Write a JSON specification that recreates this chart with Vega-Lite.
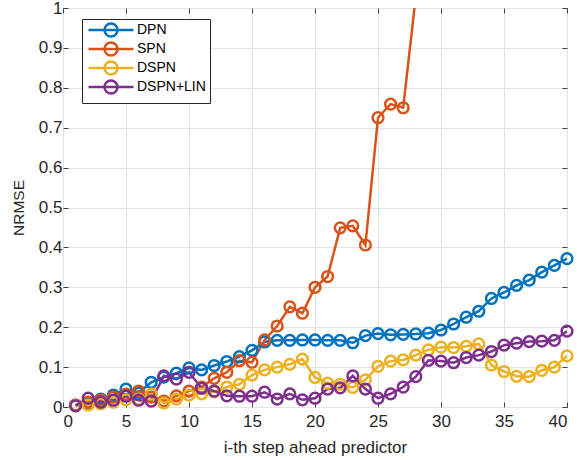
{
  "$schema": "https://vega.github.io/schema/vega-lite/v6.json",
  "autosize": {"type": "none"},
  "width": 504,
  "height": 399,
  "padding": {"left": 63, "top": 8, "right": 10, "bottom": 53},
  "background": "white",
  "config": {
    "view": {"stroke": "#404040", "strokeWidth": 1},
    "font": "Liberation Sans",
    "axis": {
      "domain": false,
      "grid": false,
      "tickColor": "#404040",
      "tickSize": -5,
      "labelFont": "Liberation Sans",
      "labelFontSize": 17,
      "labelColor": "#262626",
      "titleFont": "Liberation Sans",
      "titleFontSize": 17,
      "titleFontWeight": "normal",
      "titleColor": "#262626",
      "gridColor": "#e3e3e3",
      "gridWidth": 1
    },
    "legend": {
      "orient": "none",
      "legendX": 19,
      "legendY": 11,
      "padding": 4,
      "strokeColor": "#262626",
      "fillColor": "white",
      "labelFont": "Liberation Sans",
      "labelFontSize": 14,
      "labelColor": "black",
      "labelOffset": 19,
      "symbolOffset": 18,
      "rowPadding": -5,
      "symbolType": "M-4.5,0H4.5M1.3,0A1.3,1.3 0 1,1 -1.3,0A1.3,1.3 0 1,1 1.3,0",
      "symbolSize": 100,
      "symbolStrokeWidth": 2.5,
      "symbolFillColor": "transparent"
    }
  },
  "data": {
    "values": [
      {"s": "DPN", "x": 1, "v": 0.005}, {"s": "DPN", "x": 2, "v": 0.01}, {"s": "DPN", "x": 3, "v": 0.02}, {"s": "DPN", "x": 4, "v": 0.03},
      {"s": "DPN", "x": 5, "v": 0.045}, {"s": "DPN", "x": 6, "v": 0.035}, {"s": "DPN", "x": 7, "v": 0.062}, {"s": "DPN", "x": 8, "v": 0.075},
      {"s": "DPN", "x": 9, "v": 0.085}, {"s": "DPN", "x": 10, "v": 0.098}, {"s": "DPN", "x": 11, "v": 0.093}, {"s": "DPN", "x": 12, "v": 0.104},
      {"s": "DPN", "x": 13, "v": 0.114}, {"s": "DPN", "x": 14, "v": 0.126}, {"s": "DPN", "x": 15, "v": 0.142}, {"s": "DPN", "x": 16, "v": 0.163},
      {"s": "DPN", "x": 17, "v": 0.167}, {"s": "DPN", "x": 18, "v": 0.167}, {"s": "DPN", "x": 19, "v": 0.168}, {"s": "DPN", "x": 20, "v": 0.168},
      {"s": "DPN", "x": 21, "v": 0.167}, {"s": "DPN", "x": 22, "v": 0.167}, {"s": "DPN", "x": 23, "v": 0.161}, {"s": "DPN", "x": 24, "v": 0.179},
      {"s": "DPN", "x": 25, "v": 0.184}, {"s": "DPN", "x": 26, "v": 0.181}, {"s": "DPN", "x": 27, "v": 0.182}, {"s": "DPN", "x": 28, "v": 0.183},
      {"s": "DPN", "x": 29, "v": 0.185}, {"s": "DPN", "x": 30, "v": 0.193}, {"s": "DPN", "x": 31, "v": 0.208}, {"s": "DPN", "x": 32, "v": 0.225},
      {"s": "DPN", "x": 33, "v": 0.24}, {"s": "DPN", "x": 34, "v": 0.272}, {"s": "DPN", "x": 35, "v": 0.287}, {"s": "DPN", "x": 36, "v": 0.305},
      {"s": "DPN", "x": 37, "v": 0.318}, {"s": "DPN", "x": 38, "v": 0.338}, {"s": "DPN", "x": 39, "v": 0.355}, {"s": "DPN", "x": 40, "v": 0.372},

      {"s": "SPN", "x": 1, "v": 0.005}, {"s": "SPN", "x": 2, "v": 0.012}, {"s": "SPN", "x": 3, "v": 0.017}, {"s": "SPN", "x": 4, "v": 0.025},
      {"s": "SPN", "x": 5, "v": 0.032}, {"s": "SPN", "x": 6, "v": 0.04}, {"s": "SPN", "x": 7, "v": 0.025}, {"s": "SPN", "x": 8, "v": 0.015},
      {"s": "SPN", "x": 9, "v": 0.028}, {"s": "SPN", "x": 10, "v": 0.04}, {"s": "SPN", "x": 11, "v": 0.05}, {"s": "SPN", "x": 12, "v": 0.072},
      {"s": "SPN", "x": 13, "v": 0.087}, {"s": "SPN", "x": 14, "v": 0.116}, {"s": "SPN", "x": 15, "v": 0.112}, {"s": "SPN", "x": 16, "v": 0.168},
      {"s": "SPN", "x": 17, "v": 0.203}, {"s": "SPN", "x": 18, "v": 0.251}, {"s": "SPN", "x": 19, "v": 0.235}, {"s": "SPN", "x": 20, "v": 0.3},
      {"s": "SPN", "x": 21, "v": 0.327}, {"s": "SPN", "x": 22, "v": 0.449}, {"s": "SPN", "x": 23, "v": 0.454}, {"s": "SPN", "x": 24, "v": 0.406},
      {"s": "SPN", "x": 25, "v": 0.725}, {"s": "SPN", "x": 26, "v": 0.759}, {"s": "SPN", "x": 27, "v": 0.75}, {"s": "SPN", "x": 28, "v": 1.03},

      {"s": "DSPN", "x": 1, "v": 0.003}, {"s": "DSPN", "x": 2, "v": 0.005}, {"s": "DSPN", "x": 3, "v": 0.008}, {"s": "DSPN", "x": 4, "v": 0.012},
      {"s": "DSPN", "x": 5, "v": 0.018}, {"s": "DSPN", "x": 6, "v": 0.02}, {"s": "DSPN", "x": 7, "v": 0.032}, {"s": "DSPN", "x": 8, "v": 0.01},
      {"s": "DSPN", "x": 9, "v": 0.02}, {"s": "DSPN", "x": 10, "v": 0.03}, {"s": "DSPN", "x": 11, "v": 0.033}, {"s": "DSPN", "x": 12, "v": 0.038},
      {"s": "DSPN", "x": 13, "v": 0.05}, {"s": "DSPN", "x": 14, "v": 0.057}, {"s": "DSPN", "x": 15, "v": 0.08}, {"s": "DSPN", "x": 16, "v": 0.093},
      {"s": "DSPN", "x": 17, "v": 0.1}, {"s": "DSPN", "x": 18, "v": 0.107}, {"s": "DSPN", "x": 19, "v": 0.12}, {"s": "DSPN", "x": 20, "v": 0.074},
      {"s": "DSPN", "x": 21, "v": 0.06}, {"s": "DSPN", "x": 22, "v": 0.057}, {"s": "DSPN", "x": 23, "v": 0.049}, {"s": "DSPN", "x": 24, "v": 0.068},
      {"s": "DSPN", "x": 25, "v": 0.102}, {"s": "DSPN", "x": 26, "v": 0.115}, {"s": "DSPN", "x": 27, "v": 0.118}, {"s": "DSPN", "x": 28, "v": 0.13},
      {"s": "DSPN", "x": 29, "v": 0.143}, {"s": "DSPN", "x": 30, "v": 0.15}, {"s": "DSPN", "x": 31, "v": 0.149}, {"s": "DSPN", "x": 32, "v": 0.152},
      {"s": "DSPN", "x": 33, "v": 0.158}, {"s": "DSPN", "x": 34, "v": 0.105}, {"s": "DSPN", "x": 35, "v": 0.089}, {"s": "DSPN", "x": 36, "v": 0.077},
      {"s": "DSPN", "x": 37, "v": 0.076}, {"s": "DSPN", "x": 38, "v": 0.092}, {"s": "DSPN", "x": 39, "v": 0.1}, {"s": "DSPN", "x": 40, "v": 0.128},

      {"s": "DSPN+LIN", "x": 1, "v": 0.003}, {"s": "DSPN+LIN", "x": 2, "v": 0.022}, {"s": "DSPN+LIN", "x": 3, "v": 0.012}, {"s": "DSPN+LIN", "x": 4, "v": 0.017},
      {"s": "DSPN+LIN", "x": 5, "v": 0.027}, {"s": "DSPN+LIN", "x": 6, "v": 0.017}, {"s": "DSPN+LIN", "x": 7, "v": 0.015}, {"s": "DSPN+LIN", "x": 8, "v": 0.078},
      {"s": "DSPN+LIN", "x": 9, "v": 0.07}, {"s": "DSPN+LIN", "x": 10, "v": 0.087}, {"s": "DSPN+LIN", "x": 11, "v": 0.047}, {"s": "DSPN+LIN", "x": 12, "v": 0.04},
      {"s": "DSPN+LIN", "x": 13, "v": 0.028}, {"s": "DSPN+LIN", "x": 14, "v": 0.027}, {"s": "DSPN+LIN", "x": 15, "v": 0.027}, {"s": "DSPN+LIN", "x": 16, "v": 0.037},
      {"s": "DSPN+LIN", "x": 17, "v": 0.02}, {"s": "DSPN+LIN", "x": 18, "v": 0.033}, {"s": "DSPN+LIN", "x": 19, "v": 0.018}, {"s": "DSPN+LIN", "x": 20, "v": 0.022},
      {"s": "DSPN+LIN", "x": 21, "v": 0.045}, {"s": "DSPN+LIN", "x": 22, "v": 0.048}, {"s": "DSPN+LIN", "x": 23, "v": 0.078}, {"s": "DSPN+LIN", "x": 24, "v": 0.045},
      {"s": "DSPN+LIN", "x": 25, "v": 0.022}, {"s": "DSPN+LIN", "x": 26, "v": 0.033}, {"s": "DSPN+LIN", "x": 27, "v": 0.05}, {"s": "DSPN+LIN", "x": 28, "v": 0.076},
      {"s": "DSPN+LIN", "x": 29, "v": 0.117}, {"s": "DSPN+LIN", "x": 30, "v": 0.115}, {"s": "DSPN+LIN", "x": 31, "v": 0.111}, {"s": "DSPN+LIN", "x": 32, "v": 0.124},
      {"s": "DSPN+LIN", "x": 33, "v": 0.13}, {"s": "DSPN+LIN", "x": 34, "v": 0.139}, {"s": "DSPN+LIN", "x": 35, "v": 0.155}, {"s": "DSPN+LIN", "x": 36, "v": 0.16},
      {"s": "DSPN+LIN", "x": 37, "v": 0.164}, {"s": "DSPN+LIN", "x": 38, "v": 0.165}, {"s": "DSPN+LIN", "x": 39, "v": 0.167}, {"s": "DSPN+LIN", "x": 40, "v": 0.19}
    ]
  },
  "resolve": {"axis": {"x": "independent", "y": "independent"}},
  "layer": [
    {
      "mark": {"type": "line", "strokeWidth": 2.5, "clip": true},
      "encoding": {
        "x": {"field": "x", "type": "quantitative", "scale": {"domain": [0, 40], "nice": false},
              "axis": {"orient": "bottom", "values": [0,5,10,15,20,25,30,35,40], "grid": true, "title": "i-th step ahead predictor", "labelPadding": 11, "titlePadding": 10}},
        "y": {"field": "v", "type": "quantitative", "scale": {"domain": [0, 1], "nice": false},
              "axis": {"orient": "left", "values": [0,0.1,0.2,0.3,0.4,0.5,0.6,0.7,0.8,0.9,1], "grid": true, "title": "NRMSE", "titleFontSize": 15.5, "labelPadding": 6, "titlePadding": 12,
                       "labelExpr": "datum.value == 0 ? '0' : datum.value == 1 ? '1' : format(datum.value, '.1f')"}},
        "color": {"field": "s", "type": "nominal", "legend": {"title": null},
                  "scale": {"domain": ["DPN", "SPN", "DSPN", "DSPN+LIN"], "range": ["#0072BD", "#D95319", "#EDB120", "#7E2F8E"]}},
        "detail": {"field": "s"},
        "order": {"field": "x"}
      }
    },
    {
      "transform": [{"filter": "datum.v <= 1"}],
      "mark": {"type": "point", "shape": "circle", "filled": false, "size": 115, "strokeWidth": 2.5, "opacity": 1},
      "encoding": {
        "x": {"field": "x", "type": "quantitative",
              "axis": {"orient": "top", "values": [0,5,10,15,20,25,30,35,40], "labels": false, "title": null, "grid": false}},
        "y": {"field": "v", "type": "quantitative",
              "axis": {"orient": "right", "values": [0,0.1,0.2,0.3,0.4,0.5,0.6,0.7,0.8,0.9,1], "labels": false, "title": null, "grid": false}},
        "color": {"field": "s", "type": "nominal", "legend": {"title": null}}
      }
    }
  ]
}
